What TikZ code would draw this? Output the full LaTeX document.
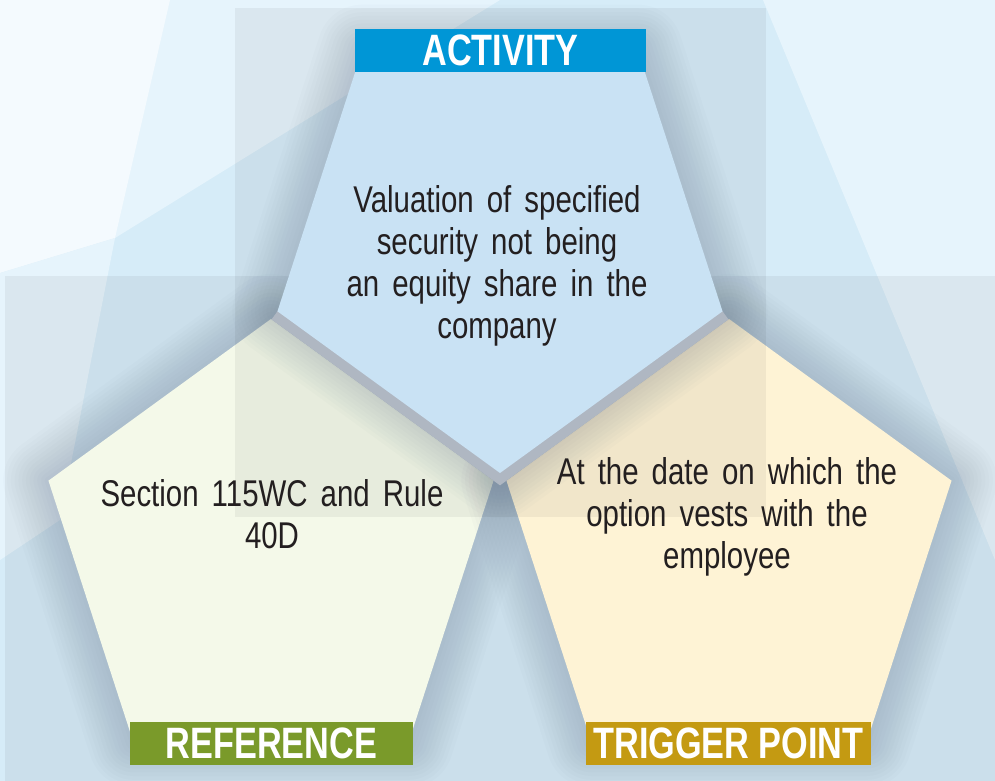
\documentclass[tikz,border=0pt]{standalone}
\usepackage{fontspec}
\setmainfont{Liberation Sans}[FakeStretch=0.78]
\newfontfamily\bodyfont{Liberation Sans}[FakeStretch=0.79, WordSpace=1.6]

\definecolor{ink}{HTML}{231F20}
\definecolor{actblue}{HTML}{0096D6}
\definecolor{refgreen}{HTML}{7A9A2A}
\definecolor{triggold}{HTML}{C49A12}
\definecolor{actfill}{HTML}{C9E2F4}
\definecolor{reffill}{HTML}{F4F9E9}
\definecolor{trigfill}{HTML}{FEF3D5}
\definecolor{bgblue}{HTML}{D6ECF8}
\definecolor{bgmid}{HTML}{E6F4FC}
\definecolor{bglight}{HTML}{F4FAFE}
\definecolor{gapgray}{HTML}{AFB7C2}
\definecolor{haze}{HTML}{5E7086}

\begin{document}
\begin{tikzpicture}[x = 0.02cm, y = -0.02cm,
  box/.style={fill=#1, text=white, inner sep=0pt, minimum height=0.86cm, font=\bfseries\fontsize{25}{25}\selectfont},
  body/.style={text=ink, align=center, font=\bodyfont\fontsize{21.2}{23.8}\selectfont},
  halo/.style={draw=haze, draw opacity=0.025, line width=#1, line join=round},
  veil/.style={fill=black, fill opacity=0.05}]

\useasboundingbox (0, 0) rectangle (995, 781);

% background
\fill[bgblue] (0, 0) rectangle (995, 781);

\fill[bgmid] (0, 0) -- (500, 0) -- (115, 238) -- (0, 273) -- cycle;

\fill[bglight] (0, 0) -- (170, 0) -- (115, 238) -- (0, 273) -- cycle;

\fill[bgmid] (0, 273) -- (115, 238) -- (60, 520) -- (0, 560) -- cycle;

\fill[bgmid] (763, 0) -- (995, 0) -- (995, 560) -- cycle;

\fill[veil] (5, 276) rectangle (995, 781);

% reference
\begin{scope}[shift={(271, 553)}]
\foreach \w in {1.8, 1.65, ..., 0.1}
  \draw[halo=\w cm] (-90:234) -- (-18:234) -- (54:234) -- (126:234) -- (198:234) -- cycle;
\fill[reffill] (-90:234) -- (-18:234) -- (54:234) -- (126:234) -- (198:234) -- cycle;
\end{scope}

% trigger point
\begin{scope}[shift={(729, 553)}]
\foreach \w in {1.8, 1.65, ..., 0.1}
  \draw[halo=\w cm] (-90:234) -- (-18:234) -- (54:234) -- (126:234) -- (198:234) -- cycle;
\fill[trigfill] (-90:234) -- (-18:234) -- (54:234) -- (126:234) -- (198:234) -- cycle;
\end{scope}

\fill[veil] (235, 8) rectangle (766, 517);

% activity
\begin{scope}[shift={(500, 239)}]
\foreach \w in {1.8, 1.65, ..., 0.1}
  \draw[halo=\w cm] (90:234) -- (162:234) -- (234:234) -- (306:234) -- (18:234) -- cycle;
\draw[gapgray, line width=0.4cm] (162:234) -- (90:234) -- (18:234);
\fill[actfill] (90:234) -- (162:234) -- (234:234) -- (306:234) -- (18:234) -- cycle;
\end{scope}

\draw (497, 266) node (actText) [body] {Valuation of specified\\security not being\\an equity share in the\\company};

\draw (272, 514) node (refText) [body] {Section 115WC and Rule\\40D};

\draw (727, 517) node (trigText) [body] {At the date on which the\\option vests with the\\employee};

\draw (500.5, 50.5) node (act) [box=actblue, minimum width=5.82cm] {ACTIVITY};

\draw (271.5, 743.5) node (ref) [box=refgreen, minimum width=5.66cm] {REFERENCE};

\draw (728.5, 743.5) node (trig) [box=triggold, minimum width=5.7cm] {TRIGGER POINT};

\end{tikzpicture}
\end{document}
